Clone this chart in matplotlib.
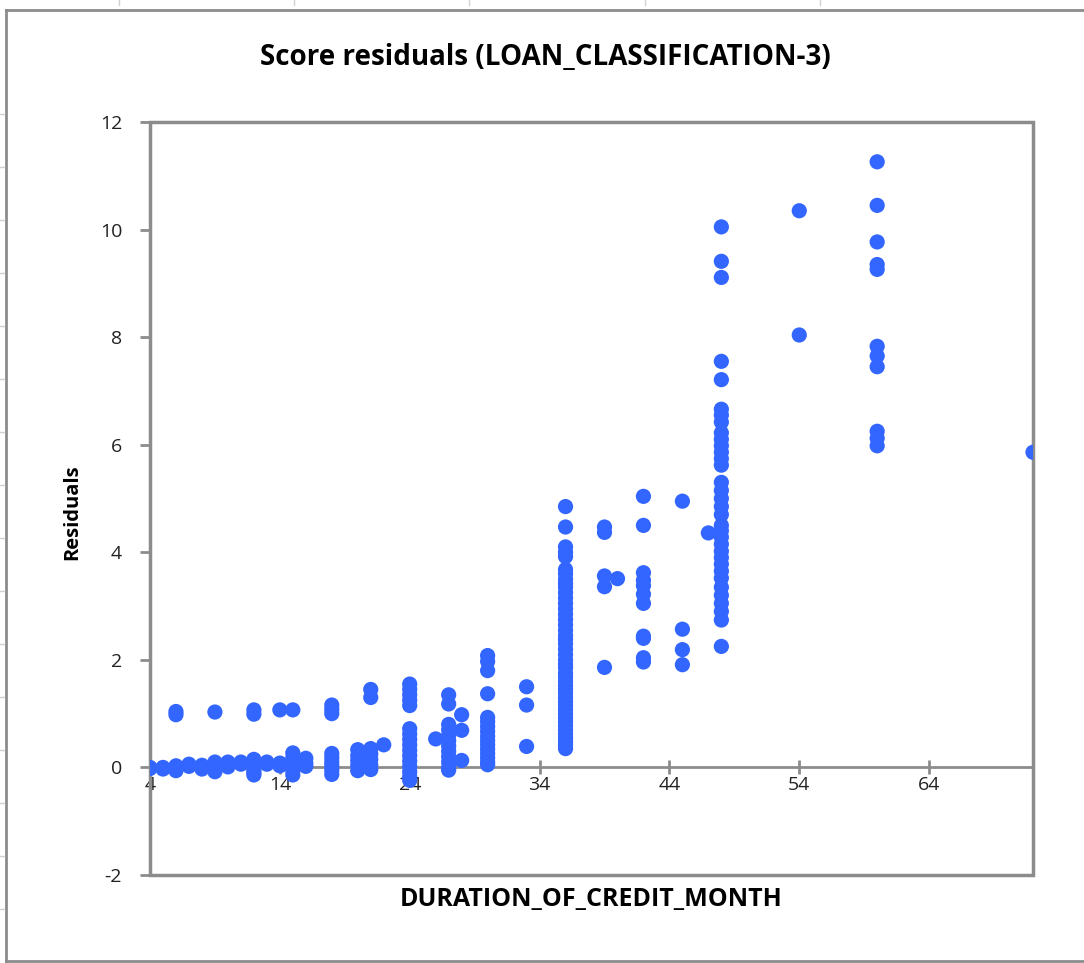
import matplotlib
matplotlib.use('Agg')
import matplotlib.pyplot as plt
from matplotlib.patches import Rectangle
from matplotlib.lines import Line2D

# residuals, grouped by credit duration (months)
durations = [4, 5, 6, 7, 8, 9, 10, 11, 12, 13, 14, 15, 16, 18, 20, 21, 22, 24,
             26, 27, 28, 30, 33, 36, 39, 40, 42, 45, 47, 48, 54, 60, 72]
residual_groups = [
    [0.0, -0.02],
    [0.0, -0.03],
    [1.04, 0.98, 0.03, -0.02, -0.06],
    [0.06, 0.02],
    [0.04, 0.0, -0.03],
    [1.03, 0.1, 0.04, -0.02, -0.08],
    [0.1, 0.05, 0.01],
    [0.1, 0.06],
    [1.07, 0.99, 0.15, 0.1, 0.05, 0.0, -0.05, -0.1, -0.14],
    [0.1, 0.06],
    [1.07, 0.08, 0.03],
    [1.07, 0.27, 0.18, 0.1, 0.02, -0.06, -0.14],
    [0.17, 0.08, 0.02],
    [1.16, 1.08, 1.0, 0.26, 0.18, 0.1, 0.03, -0.05, -0.13],
    [0.33, 0.22, 0.13, 0.04, -0.06],
    [1.45, 1.3, 0.35, 0.25, 0.15, 0.05, -0.04],
    [0.42],
    [1.55, 1.45, 1.35, 1.25, 1.15, 0.72, 0.62, 0.52, 0.42, 0.32, 0.22, 0.12,
     0.02, -0.08, -0.17, -0.24],
    [0.53],
    [1.35, 1.18, 0.8, 0.7, 0.6, 0.5, 0.4, 0.3, 0.2, 0.1, 0.0, -0.05],
    [0.98, 0.69, 0.13],
    [2.08, 1.97, 1.8, 1.37, 0.93, 0.85, 0.76, 0.67, 0.58, 0.5, 0.42, 0.34,
     0.26, 0.18, 0.1, 0.05],
    [1.5, 1.16, 0.39],
    [4.85, 4.47, 4.1, 4.0, 3.92, 3.68, 3.6, 3.5, 3.42, 3.35, 3.25, 3.15, 3.05,
     2.95, 2.85, 2.75, 2.65, 2.55, 2.45, 2.38, 2.3, 2.2, 2.1, 2.0, 1.92, 1.85,
     1.75, 1.68, 1.6, 1.52, 1.45, 1.38, 1.3, 1.22, 1.15, 1.08, 1.0, 0.92, 0.85,
     0.78, 0.7, 0.62, 0.55, 0.48, 0.42, 0.35],
    [4.47, 4.37, 3.56, 3.36, 1.86],
    [3.51],
    [5.04, 4.5, 3.62, 3.48, 3.38, 3.22, 3.05, 2.44, 2.4, 2.04, 1.96],
    [4.95, 2.57, 2.19, 1.91],
    [4.36],
    [10.05, 9.41, 9.11, 7.55, 7.21, 6.66, 6.55, 6.42, 6.22, 6.1, 5.98, 5.86,
     5.74, 5.62, 5.3, 5.15, 5.0, 4.85, 4.7, 4.5, 4.4, 4.28, 4.15, 4.02, 3.9,
     3.78, 3.65, 3.52, 3.35, 3.2, 3.05, 2.9, 2.74, 2.25],
    [10.35, 8.04],
    [11.26, 10.45, 9.77, 9.35, 9.26, 7.83, 7.65, 7.45, 6.25, 6.12, 5.98],
    [5.86],
]
x_ticks = [4, 14, 24, 34, 44, 54, 64]
y_ticks = [-2, 0, 2, 4, 6, 8, 10, 12]

xs = []
ys = []
for d, group in zip(durations, residual_groups):
    for r in group:
        xs.append(d)
        ys.append(r)

W, H = 1084, 963
fig = plt.figure(figsize=(W / 100, H / 100), dpi=100)
plt.rcParams['font.family'] = ['Open Sans', 'DejaVu Sans']
plt.rcParams['axes.unicode_minus'] = False

gray = '#8c8c8c'
# chart area frame (runs past the right edge) and sheet gridline stubs
fig.add_artist(Line2D([6 / W, 6 / W], [1 - 10 / H, 1 - 961 / H], color=gray, lw=2))
fig.add_artist(Line2D([6 / W, 1.0], [1 - 10 / H, 1 - 10 / H], color=gray, lw=2))
fig.add_artist(Line2D([6 / W, 1.0], [1 - 961 / H, 1 - 961 / H], color=gray, lw=2))
for px in [119, 294, 469, 645, 820]:
    fig.add_artist(Line2D([px / W, px / W], [1, 1 - 5 / H], color='#d0d0d0', lw=1))
for py in range(114, 960, 53):
    fig.add_artist(Line2D([0, 4 / W], [1 - py / H, 1 - py / H], color='#d0d0d0', lw=1))

left, right, top, bottom = 150, 1033, 122, 875
ax = fig.add_axes([left / W, 1 - bottom / H, (right - left) / W, (bottom - top) / H])

ax.scatter(xs, ys, s=120, color='#3366ff', edgecolors='none', zorder=3)

ax.set_xlim(4, 72)
ax.set_ylim(-2, 12)
ax.set_xticks(x_ticks)
ax.set_yticks(y_ticks)

# plot area border
ax.add_patch(Rectangle((0, 0), 1, 1, transform=ax.transAxes, fill=False,
                       edgecolor=gray, lw=2.5, clip_on=False, zorder=2))
for s in ['top', 'right', 'left']:
    ax.spines[s].set_visible(False)
ax.spines['bottom'].set_position(('data', 0))
ax.spines['bottom'].set_color(gray)
ax.spines['bottom'].set_linewidth(2)

ax.tick_params(axis='x', direction='inout', length=10, width=2, color=gray,
               labelsize=14, pad=1, labelcolor='#222222')
ax.tick_params(axis='y', direction='out', length=7, width=2, color=gray,
               labelsize=14, pad=13, labelcolor='#222222')

fig.text(545 / W, 1 - 58 / H, 'Score residuals (LOAN_CLASSIFICATION-3)',
         ha='center', va='center', fontsize=20, fontweight='bold')
fig.text(591 / W, 1 - 899 / H, 'DURATION_OF_CREDIT_MONTH',
         ha='center', va='center', fontsize=18, fontweight='bold')
fig.text(72 / W, 1 - 512 / H, 'Residuals', rotation=90,
         ha='center', va='center', fontsize=14.5, fontweight='bold')

fig.savefig('out.png', dpi=100)
